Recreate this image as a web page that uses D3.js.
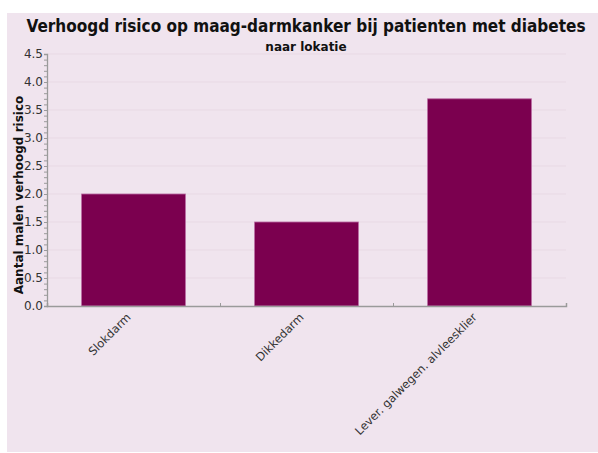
<!DOCTYPE html>
<html><head><meta charset="utf-8">
<script src="https://cdn.jsdelivr.net/npm/d3@7"></script>
<style>
html,body{margin:0;padding:0;background:#fff;}
svg{display:block;}
text{font-family:"DejaVu Sans",sans-serif;}
</style></head>
<body><svg id="c" width="598" height="453"></svg>
<script>
const categories = ["Slokdarm", "Dikkedarm", "Lever. galwegen. alvleesklier"];
const values = [2.0, 1.5, 3.7];
const yTicks = [0, 0.5, 1.0, 1.5, 2.0, 2.5, 3.0, 3.5, 4.0, 4.5];
const title = "Verhoogd risico op maag-darmkanker bij patienten met diabetes";
const subtitle = "naar lokatie";
const yLabel = "Aantal malen verhoogd risico";

const svg = d3.select("#c");
const W = 598, H = 453;
const m = {left: 47, right: 32, top: 54, bottom: 147};
const bg = "#f0e4ee";
svg.append("rect").attr("x", 7).attr("y", 13).attr("width", W - 7).attr("height", H - 13 - 1).attr("fill", bg);

const x = d3.scaleBand().domain(categories).range([m.left, W - m.right]).paddingInner(0.4).paddingOuter(0.2);
const y = d3.scaleLinear().domain([0, 4.5]).range([H - m.bottom, m.top]);

// gridlines
svg.append("g").selectAll("line").data(yTicks.slice(1)).join("line")
  .attr("x1", m.left).attr("x2", W - m.right)
  .attr("y1", d => y(d)).attr("y2", d => y(d))
  .attr("stroke", "#e8d9e4").attr("stroke-width", 1);

// bars
svg.append("g").selectAll("rect").data(values).join("rect")
  .attr("x", (d, i) => x(categories[i]))
  .attr("y", d => y(d))
  .attr("width", x.bandwidth())
  .attr("height", d => y(0) - y(d))
  .attr("fill", "#7b004f")
  .attr("stroke", "#b86aa2").attr("stroke-width", 0.8);

// y axis
const minor = d3.range(0, 4.5001, 0.1);
const yAxis = d3.axisLeft(y).tickValues(minor).tickSize(3).tickFormat("");
const gy = svg.append("g").attr("transform", `translate(${m.left},0)`).call(yAxis);
gy.select(".domain").attr("stroke", "#9a9a9a").attr("stroke-width", 1.3);
gy.selectAll(".tick line").attr("stroke", "#9a9a9a");
const gyl = svg.append("g").attr("transform", `translate(${m.left},0)`)
  .call(d3.axisLeft(y).tickValues(yTicks).tickSize(0).tickPadding(4).tickFormat(d3.format(".1f")));
gyl.select(".domain").remove();
gyl.selectAll("text").attr("font-size", 12).attr("fill", "#333")
  .style("font-family", "'DejaVu Sans',sans-serif");

// x axis
const xb = d3.scaleLinear().domain([0, 3]).range([m.left, W - m.right]);
const gx = svg.append("g").attr("transform", `translate(0,${y(0)})`)
  .call(d3.axisTop(xb).tickValues([1, 2, 3]).tickSize(3).tickFormat(""));
gx.select(".domain").attr("stroke", "#9a9a9a").attr("stroke-width", 1.5);
gx.selectAll(".tick line").attr("stroke", "#9a9a9a");

// x labels
svg.append("g").selectAll("text").data(categories).join("text")
  .attr("transform", d => `translate(${x(d) + x.bandwidth() / 2 - 2},${y(0) + 12}) rotate(-45)`)
  .attr("text-anchor", "end")
  .attr("font-size", 11.5).attr("fill", "#333")
  .text(d => d);

// y label
svg.append("text")
  .attr("transform", `translate(23,${(y(0) + y(4.5)) / 2 + 15}) rotate(-90)`)
  .attr("text-anchor", "middle").attr("font-size", 12).attr("font-weight", "bold").attr("fill", "#111")
  .text(yLabel);

// titles
svg.append("text").attr("x", 306).attr("y", 32).attr("text-anchor", "middle")
  .style("font-family", "'DejaVu Sans Condensed','DejaVu Sans',sans-serif")
  .attr("font-size", 17).attr("font-weight", "bold").attr("fill", "#111").text(title);
svg.append("text").attr("x", 306).attr("y", 51).attr("text-anchor", "middle")
  .attr("font-size", 12).attr("font-weight", "bold").attr("fill", "#111").text(subtitle);
</script></body></html>
